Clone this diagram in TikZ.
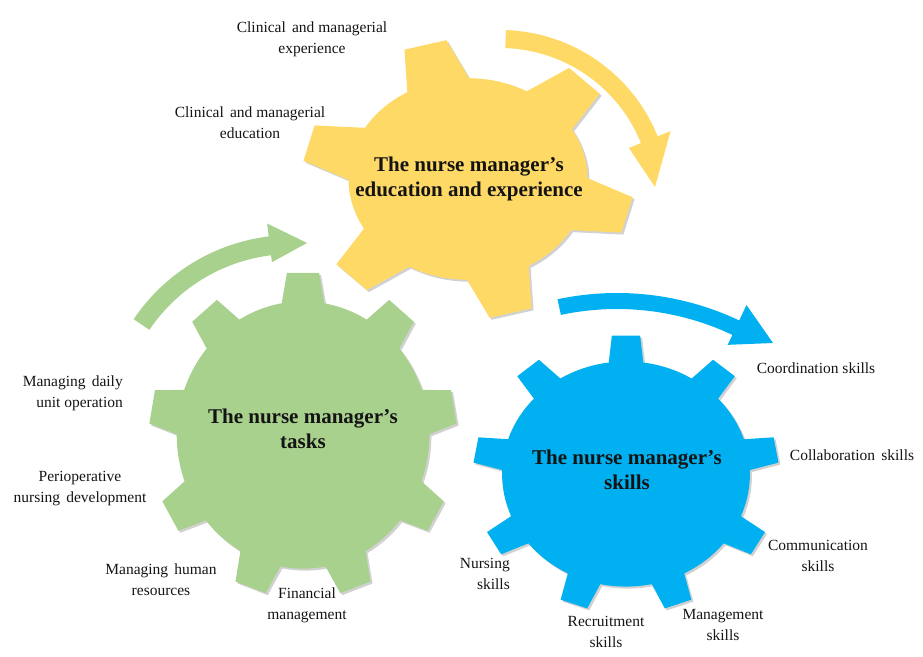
\documentclass[tikz,border=0pt]{standalone}
\usepackage{fontspec}
\setmainfont{Liberation Serif}

\definecolor{gearyellow}{HTML}{FFD966}
\definecolor{geargreen}{HTML}{A9D18E}
\definecolor{gearblue}{HTML}{00B0F0}
\definecolor{inkdark}{HTML}{141414}
\newcommand\widesp{\hspace{0.4em}}

\begin{document}
\begin{tikzpicture}[x=1pt, y=1pt,
  % gear outline: #1 teeth, #2 angle of first tooth, #3 body radius,
  % #4 half angle of a tooth at its root, #5 half angle at its tip
  pics/gear/.style n args={5}{code={
    \pgfmathsetmacro\gstep{360/#1}
    \path[pic actions] ({#2-#4}:#3)
      \foreach \k in {1,...,#1}{
        -- ({#2+(\k-1)*\gstep-#5}:1) -- ({#2+(\k-1)*\gstep+#5}:1)
        -- ({#2+(\k-1)*\gstep+#4}:#3)
        arc[start angle={#2+(\k-1)*\gstep+#4}, end angle={#2+\k*\gstep-#4}, radius=#3]
      } -- cycle;
  }},
  gearshadow/.style={fill=black, fill opacity=0.18},
  sidetext/.style={font=\fontsize{15.5}{21}\selectfont, align=center,
    text=inkdark, inner sep=0pt},
  geartitle/.style={font=\fontsize{21}{25}\selectfont\bfseries, align=center,
    text=inkdark, inner sep=0pt}
]
\useasboundingbox (0,0) rectangle (923,656);

% rotation arrows
\begin{scope}[shift={(500,456)}]
  \fill[gearyellow] (88:170) arc[start angle=88, end angle=22, radius=170]
    -- (22:184) -- (155,13) -- (22:139) -- (22:152)
    arc[start angle=22, end angle=88, radius=152] -- cycle;
\end{scope}
\begin{scope}[shift={(292,230)}]
  \fill[geargreen] (146:191) arc[start angle=146, end angle=97, radius=191]
    -- (97:204) -- (15,183) -- (97:165) -- (97:172)
    arc[start angle=97, end angle=146, radius=172] -- cycle;
\end{scope}
\begin{scope}[shift={(617,77)}]
  \fill[gearblue] (102:286) arc[start angle=102, end angle=64.7, radius=286]
    -- (64.7:303) -- (156,236) -- (64.7:259) -- (64.7:270)
    arc[start angle=64.7, end angle=102, radius=270] -- cycle;
\end{scope}

% shadows of the gears
\pic[gearshadow, xscale=166, yscale=140] at (470,475) {gear={6}{-15}{0.72}{15.5}{7.5}};
\pic[gearshadow, xscale=154, yscale=163] at (305,219) {gear={9}{90}{0.82}{9.7}{6}};
\pic[gearshadow, xscale=153, yscale=139] at (628,180) {gear={9}{90}{0.81}{8}{5.3}};

% gears
\pic[fill=gearyellow, xscale=166, yscale=140] at (468,477) {gear={6}{-15}{0.72}{15.5}{7.5}};
\pic[fill=geargreen, xscale=154, yscale=163] at (303,221) {gear={9}{90}{0.82}{9.7}{6}};
\pic[fill=gearblue, xscale=153, yscale=139] at (626,182) {gear={9}{90}{0.81}{8}{5.3}};

% gear titles
\node[geartitle] (edu) at (469,477) {The nurse manager's\\education and experience};
\node[geartitle] (tasks) at (303,227) {The nurse manager's\\tasks};
\node[geartitle] (skills) at (627,186) {The nurse manager's\\skills};

% education and experience
\node[sidetext] (cme) at (312,617) {Clinical\widesp and managerial\\experience};
\node[sidetext] (cmed) at (250,533) {Clinical\widesp and managerial\\education};

% tasks
\node[sidetext, anchor=east, align=right] (daily) at (123,263) {Managing\widesp daily\\unit operation};
\node[sidetext] (periop) at (80,167) {Perioperative\\nursing\widesp development};
\node[sidetext] (human) at (161,76) {Managing\widesp human\\resources};
\node[sidetext] (finance) at (307,51) {Financial\\management};

% skills
\node[sidetext, anchor=east, align=right] (nursing) at (510,82) {Nursing\\skills};
\node[sidetext] (recruit) at (606,24) {Recruitment\\skills};
\node[sidetext] (manage) at (723,31) {Management\\skills};
\node[sidetext] (commun) at (818,100) {Communication\\skills};
\node[sidetext] (collab) at (852,201) {Collaboration\widesp skills};
\node[sidetext] (coord) at (816,288) {Coordination skills};
\end{tikzpicture}
\end{document}
